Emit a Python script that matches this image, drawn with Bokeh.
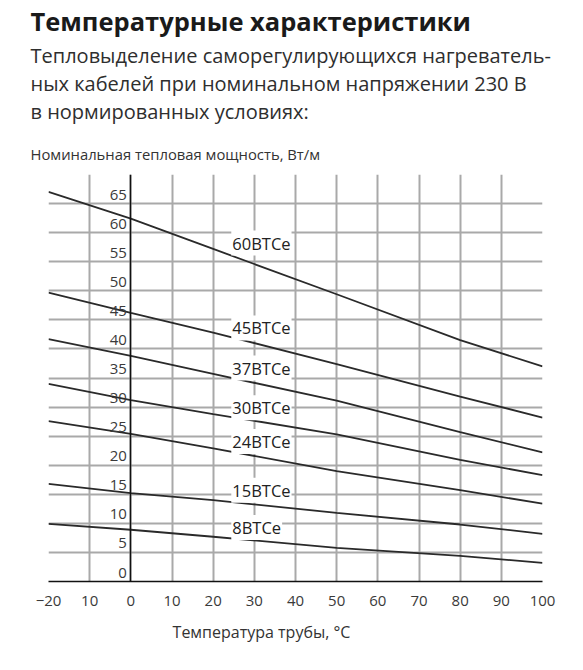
from bokeh.plotting import figure
from bokeh.models import LinearAxis, FixedTicker, Label, LabelSet, Range1d, ColumnDataSource
from bokeh.layouts import column
from bokeh.core.properties import value
from bokeh.embed import file_html
from bokeh.resources import INLINE

# ---- data ----
temps = [-20, 0, 20, 50, 80, 100]
s60 = [67.0, 62.4, 57.2, 49.4, 41.5, 37.0]
s45 = [49.7, 46.2, 42.8, 37.4, 31.8, 28.2]
s37 = [41.7, 38.8, 35.7, 31.1, 25.7, 22.2]
s30 = [34.0, 31.2, 28.8, 25.3, 20.9, 18.3]
s24 = [27.6, 25.4, 22.9, 19.0, 15.7, 13.4]
s15 = [16.8, 15.2, 14.0, 11.8, 9.8, 8.2]
s08 = [9.9, 8.9, 7.7, 5.8, 4.4, 3.2]
series = [s60, s45, s37, s30, s24, s15, s08]
series_names = ["60ВТСе", "45ВТСе", "37ВТСе", "30ВТСе", "24ВТСе", "15ВТСе", "8ВТСе"]
x_ticks = [-20, -10, 0, 10, 20, 30, 40, 50, 60, 70, 80, 90, 100]
y_ticks = [0, 5, 10, 15, 20, 25, 30, 35, 40, 45, 50, 55, 60, 65]
y_tick_labels = ["0", "5", "10", "15", "20", "25", "30", "35", "40", "45", "50", "55", "60", "65"]
y_grid = [0, 5, 10, 15, 20, 25, 30, 35, 40, 45, 50, 55, 60, 65, 70]

title_text = "Температурные характеристики"
subtitle_lines = [
    "Тепловыделение саморегулирующихся нагреватель-",
    "ных кабелей при номинальном напряжении 230 В",
    "в нормированных условиях:",
]
y_title = "Номинальная тепловая мощность, Вт/м"
x_title = "Температура трубы, °C"

FONT = "Open Sans"
W = 572
HEAD_H = 170
FOOT_H = 50


def text_panel(height):
    f = figure(width=W, height=height, x_range=Range1d(0, W), y_range=Range1d(height, 0),
               title=None, min_border=0, output_backend="svg", toolbar_location=None,
               x_axis_location=None, y_axis_location=None, frame_align=False)
    f.outline_line_color = None
    f.grid.visible = False
    f.background_fill_color = "white"
    f.border_fill_color = "white"
    return f


# ---- header (title, subtitle, y title) ----
head = text_panel(HEAD_H)
head.text(x=[30], y=[20.5], text=[title_text], text_font=value(FONT), text_font_size="25.5px",
          text_font_style="bold", text_color="#1a1a1a", text_baseline="middle")
head.text(x=[30, 30, 30], y=[55, 82.5, 110.5], text=subtitle_lines, text_font=value(FONT),
          text_font_size="20px", text_color="#2e2e2e", text_baseline="middle")
head.text(x=[30], y=[153], text=[y_title], text_font=value(FONT), text_font_size="14.8px",
          text_color="#333333", text_baseline="middle")

# ---- chart ----
p = figure(width=W, frame_width=494, frame_height=407, title=None,
           min_border_left=48, min_border_top=4, min_border_right=30, min_border_bottom=32,
           x_range=Range1d(-20, 100), y_range=Range1d(0, 70),
           output_backend="svg", toolbar_location=None,
           x_axis_location="below", y_axis_location=None, frame_align=False)
p.outline_line_color = None
p.background_fill_color = "white"
p.border_fill_color = "white"

p.xgrid.ticker = FixedTicker(ticks=x_ticks)
p.ygrid.ticker = FixedTicker(ticks=y_grid)
for g in (p.xgrid, p.ygrid):
    g.grid_line_color = "#a9a9a9"
    g.grid_line_width = 2

xa = p.xaxis[0]
xa.ticker = FixedTicker(ticks=x_ticks)
xa.major_label_overrides = {-10: "10"}
xa.axis_line_color = "#111111"
xa.axis_line_width = 1.5
xa.major_tick_out = 0
xa.major_tick_in = 0
xa.minor_tick_out = 0
xa.minor_tick_in = 0
xa.major_label_standoff = 14
xa.major_label_text_font = FONT
xa.major_label_text_font_size = "15px"
xa.major_label_text_color = "#3a3a3a"

# y axis line at x = 0; its tick labels sit just above their grid lines
ya = LinearAxis(fixed_location=0, ticker=FixedTicker(ticks=y_ticks))
ya.axis_line_color = "#111111"
ya.axis_line_width = 1.5
ya.major_tick_out = 0
ya.major_tick_in = 0
ya.minor_tick_out = 0
ya.minor_tick_in = 0
ya.major_label_text_color = None
ya.major_label_text_font_size = "1px"
p.add_layout(ya, "left")

tick_src = ColumnDataSource(dict(x=[0] * len(y_ticks), y=y_ticks, t=y_tick_labels))
p.add_layout(LabelSet(x="x", y="y", text="t", source=tick_src, x_offset=-4, y_offset=9,
                      text_align="right", text_baseline="middle", text_font=value(FONT),
                      text_font_size="15px", text_color="#3a3a3a"))

for s in series:
    p.line(temps, s, line_color="#2a2a2a", line_width=1.8)

label_x = 24.4
label_y = [58.2, 43.6, 36.7, 29.9, 24.1, 15.7, 9.3]
for name, ly in zip(series_names, label_y):
    p.add_layout(Label(x=label_x, y=ly, text=name, text_font=FONT, text_font_size="16.5px",
                       text_color="#222222", text_baseline="middle", text_align="left",
                       background_fill_color="white", padding=1))

# ---- footer (x title) ----
foot = text_panel(FOOT_H)
foot.text(x=[261], y=[18], text=[x_title], text_font=value(FONT), text_font_size="16px",
          text_color="#333333", text_baseline="middle", text_align="center")

layout = column(head, p, foot, spacing=0)
open("out.html", "w").write(file_html(layout, INLINE))
